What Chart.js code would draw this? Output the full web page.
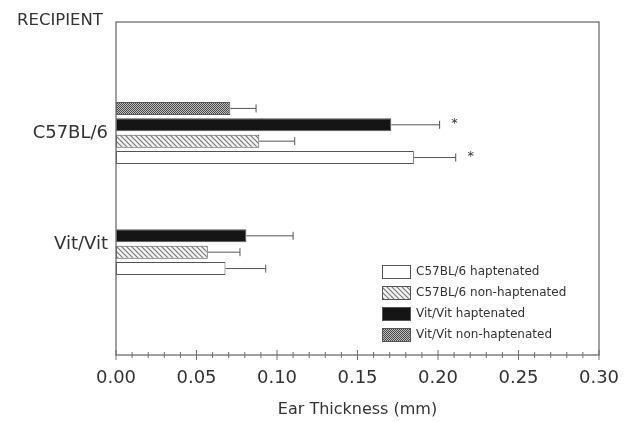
<!DOCTYPE html>
<html>
<head>
<meta charset="utf-8">
<script src="https://cdn.jsdelivr.net/npm/chart.js@4.4.1/dist/chart.umd.min.js"></script>
<style>
  body { margin: 0; background: #fff; }
</style>
</head>
<body>
<canvas id="chart" width="634" height="422"></canvas>
<script>
// recipient groups, bottom to top on the y axis
const groups = ["Vit/Vit", "C57BL/6"];

// ear thickness (mm), one value per group
const c57Hapt = [0.068, 0.185];
const c57HaptErr = [0.025, 0.026];
const c57Non = [0.057, 0.089];
const c57NonErr = [0.020, 0.022];
const vitHapt = [0.081, 0.171];
const vitHaptErr = [0.029, 0.030];
const vitNon = [null, 0.071];
const vitNonErr = [null, 0.016];

// significance marks
const c57HaptStar = [false, true];
const vitHaptStar = [false, true];

const xTicks = [0, 0.05, 0.1, 0.15, 0.2, 0.25, 0.3];

const fontFamily = "'DejaVu Sans', sans-serif";
const textColor = "#333";
const lineColor = "#6e6e6e";

const makeHatch = () => {
  let c = document.createElement("canvas");
  c.width = 5;
  c.height = 5;
  let g = c.getContext("2d");
  g.fillStyle = "#f4f4f4";
  g.fillRect(0, 0, 5, 5);
  g.strokeStyle = "#7a7a7a";
  g.lineWidth = 1.2;
  g.beginPath();
  g.moveTo(-1, -1);
  g.lineTo(6, 6);
  g.moveTo(-1, 4);
  g.lineTo(1, 6);
  g.moveTo(4, -1);
  g.lineTo(6, 1);
  g.stroke();
  return g.createPattern(c, "repeat");
};

const makeCross = () => {
  let c = document.createElement("canvas");
  c.width = 2;
  c.height = 2;
  let g = c.getContext("2d");
  g.fillStyle = "#bdbdbd";
  g.fillRect(0, 0, 2, 2);
  g.fillStyle = "#4a4a4a";
  g.fillRect(0, 0, 1, 1);
  g.fillRect(1, 1, 1, 1);
  return g.createPattern(c, "repeat");
};

const toPoints = (values) =>
  values.map((v, i) => ({ x: v, y: i + 1 }));

// order inside a group is top to bottom
const datasets = [
  {
    label: "Vit/Vit non-haptenated",
    data: toPoints(vitNon),
    values: vitNon,
    errors: vitNonErr,
    stars: [false, false],
    backgroundColor: makeCross(),
  },
  {
    label: "Vit/Vit haptenated",
    data: toPoints(vitHapt),
    values: vitHapt,
    errors: vitHaptErr,
    stars: vitHaptStar,
    backgroundColor: "#151515",
  },
  {
    label: "C57BL/6 non-haptenated",
    data: toPoints(c57Non),
    values: c57Non,
    errors: c57NonErr,
    stars: [false, false],
    backgroundColor: makeHatch(),
  },
  {
    label: "C57BL/6 haptenated",
    data: toPoints(c57Hapt),
    values: c57Hapt,
    errors: c57HaptErr,
    stars: c57HaptStar,
    backgroundColor: "#ffffff",
  },
];
datasets.forEach((ds) => {
  ds.borderColor = "#555";
  ds.borderWidth = 1;
  ds.borderSkipped = false;
  ds.categoryPercentage = 0.59;
  ds.barPercentage = 0.79;
});

const extras = {
  id: "extras",
  afterDatasetsDraw(chart) {
    let ctx = chart.ctx;
    let area = chart.chartArea;
    let xs = chart.scales.x;

    // frame
    ctx.save();
    ctx.strokeStyle = lineColor;
    ctx.lineWidth = 1.3;
    ctx.strokeRect(area.left, area.top, area.right - area.left, area.bottom - area.top);

    // major and minor ticks across the axis line
    ctx.lineWidth = 1;
    for (let k = 0; k <= 30; k++) {
      let px = xs.getPixelForValue(k / 100);
      let h = k % 5 === 0 ? 5 : 3;
      ctx.beginPath();
      ctx.moveTo(px, area.bottom - h);
      ctx.lineTo(px, area.bottom + h);
      ctx.stroke();
    }

    // error bars and stars
    ctx.strokeStyle = "#555";
    ctx.fillStyle = textColor;
    ctx.font = "13px " + fontFamily;
    ctx.textAlign = "center";
    ctx.textBaseline = "middle";
    chart.data.datasets.forEach((ds, i) => {
      let meta = chart.getDatasetMeta(i);
      meta.data.forEach((bar, j) => {
        let v = ds.values[j];
        if (v === null) return;
        let x0 = xs.getPixelForValue(v);
        let x1 = xs.getPixelForValue(v + ds.errors[j]);
        ctx.beginPath();
        ctx.moveTo(x0, bar.y);
        ctx.lineTo(x1, bar.y);
        ctx.moveTo(x1, bar.y - 4);
        ctx.lineTo(x1, bar.y + 4);
        ctx.stroke();
        if (ds.stars[j]) {
          ctx.fillText("*", x1 + 15, bar.y - 1);
        }
      });
    });

    // legend, in reverse dataset order
    let items = chart.data.datasets.slice().reverse();
    let lx = area.right - 217;
    let ly = area.bottom - 90;
    ctx.font = "12px " + fontFamily;
    ctx.textAlign = "left";
    items.forEach((ds, k) => {
      let top = ly + k * 21;
      ctx.fillStyle = ds.backgroundColor;
      ctx.fillRect(lx, top, 29, 14);
      ctx.strokeStyle = "#555";
      ctx.strokeRect(lx + 0.5, top + 0.5, 28, 13);
      ctx.fillStyle = textColor;
      ctx.fillText(ds.label, lx + 34, top + 7);
    });

    // axis title and recipient header
    ctx.font = "16px " + fontFamily;
    ctx.textAlign = "center";
    ctx.fillText("Ear Thickness (mm)", (area.left + area.right) / 2, chart.height - 12);
    ctx.font = "16.5px " + fontFamily;
    ctx.textAlign = "left";
    ctx.fillText("RECIPIENT", 17, area.top - 1);
    ctx.restore();
  },
};

new Chart(document.getElementById("chart"), {
  type: "bar",
  data: { datasets: datasets },
  options: {
    responsive: false,
    animation: false,
    indexAxis: "y",
    layout: { padding: { top: 22, right: 35, left: 0, bottom: 0 } },
    plugins: {
      legend: { display: false },
      tooltip: { enabled: false },
    },
    scales: {
      x: {
        type: "linear",
        min: 0,
        max: 0.3,
        afterBuildTicks: (scale) => {
          scale.ticks = xTicks.map((v) => ({ value: v }));
        },
        afterFit: (scale) => {
          scale.height = 67;
        },
        grid: { display: false, drawTicks: false },
        border: { display: false },
        ticks: {
          padding: 13,
          color: textColor,
          font: { family: fontFamily, size: 18 },
          callback: (v) => v.toFixed(2),
        },
      },
      y: {
        type: "linear",
        offset: false,
        min: 0,
        max: 3,
        afterBuildTicks: (scale) => {
          scale.ticks = groups.map((g, i) => ({ value: i + 1 }));
        },
        afterFit: (scale) => {
          scale.width = 116;
        },
        grid: { display: false, drawTicks: false },
        border: { display: false },
        ticks: {
          padding: 8,
          color: textColor,
          font: { family: fontFamily, size: 18 },
          callback: (v) => groups[v - 1],
        },
      },
    },
  },
  plugins: [extras],
});
</script>
</body>
</html>
